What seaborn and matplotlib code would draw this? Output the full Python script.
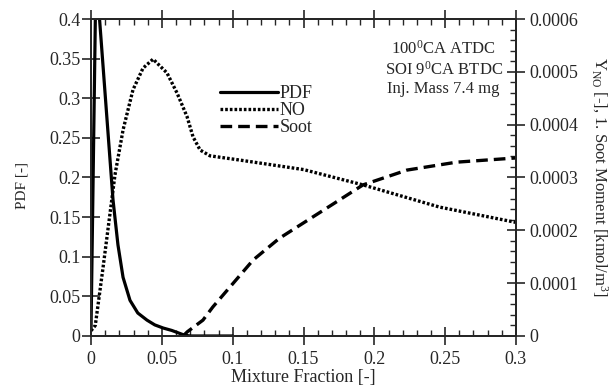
import matplotlib
matplotlib.use("Agg")
import matplotlib.pyplot as plt
import matplotlib.ticker as mticker
import seaborn as sns
import numpy as np

# data
pdf_x = [0, 0.0035, 0.0155, 0.019, 0.0226, 0.0275, 0.033, 0.0395, 0.045, 0.051, 0.057, 0.063, 0.066, 0.07, 0.1]
pdf_y = [0.01, 0.46, 0.172, 0.115, 0.074, 0.045, 0.029, 0.020, 0.014, 0.010, 0.007, 0.003, 0.001, 0.0, 0.0]

no_x = [0, 0.003, 0.0085, 0.0169, 0.0226, 0.0296, 0.0367, 0.0438, 0.0536, 0.0607, 0.0678,
        0.072, 0.077, 0.084, 0.105, 0.15, 0.192, 0.246, 0.3]
no_y = [0.00001, 0.00002, 0.00013, 0.000305, 0.00039, 0.000466, 0.000507, 0.000524, 0.000498,
        0.00046, 0.000415, 0.000377, 0.000352, 0.000341, 0.000333, 0.000315, 0.000286, 0.000244, 0.000215]

soot_x = [0.065, 0.068, 0.079, 0.086, 0.1145, 0.133, 0.164, 0.192, 0.223, 0.258, 0.3]
soot_y = [0.0, 0.000008, 0.00003, 0.000055, 0.000144, 0.000185, 0.000238, 0.000286, 0.000314, 0.000329, 0.000337]

sns.set_style("ticks")
plt.rcParams['font.family'] = ['Liberation Serif', 'DejaVu Serif']
plt.rcParams['mathtext.fontset'] = 'custom'
plt.rcParams['mathtext.rm'] = 'Liberation Serif'
plt.rcParams['mathtext.it'] = 'Liberation Serif:italic'
plt.rcParams['font.size'] = 12

fig = plt.figure(figsize=(6.11, 3.91), dpi=100)
ax = fig.add_axes([0.149, 0.1407, 0.6955, 0.8107])
ax2 = ax.twinx()

sns.lineplot(x=pdf_x, y=pdf_y, ax=ax, color='black', linewidth=2.3, label='PDF', legend=False)
sns.lineplot(x=no_x, y=no_y, ax=ax2, color='black', linewidth=2.4, linestyle=(0, (0.8, 0.6)),
             label='NO', legend=False)
sns.lineplot(x=soot_x, y=soot_y, ax=ax2, color='black', linewidth=2.4, linestyle=(0, (3.5, 1.8)),
             label='Soot', legend=False)

ax.set_xlim(0, 0.3)
ax.set_ylim(0, 0.4)
ax2.set_ylim(0, 0.0006)

ax.xaxis.set_major_locator(mticker.MultipleLocator(0.05))
ax.xaxis.set_minor_locator(mticker.MultipleLocator(0.01))
ax.yaxis.set_major_locator(mticker.MultipleLocator(0.05))
ax2.yaxis.set_major_locator(mticker.MultipleLocator(0.0001))
ax2.yaxis.set_minor_locator(mticker.MultipleLocator(0.00002))
ax.xaxis.set_major_formatter(mticker.FuncFormatter(lambda v, p: '%g' % round(v, 4)))
ax.yaxis.set_major_formatter(mticker.FuncFormatter(lambda v, p: '%g' % round(v, 4)))
ax2.yaxis.set_major_formatter(mticker.FuncFormatter(lambda v, p: '0' if abs(v) < 1e-12 else '%.4f' % v))

ax.tick_params(axis='x', which='major', direction='inout', length=13, width=1.2, top=True, pad=4, labelsize=13)
ax.tick_params(axis='x', which='minor', direction='in', length=4, width=1.0, top=True)
ax.tick_params(axis='y', which='major', direction='inout', length=13, width=1.2, right=False, pad=1, labelsize=13)
ax2.tick_params(axis='y', which='major', direction='inout', length=13, width=1.2, pad=3, labelsize=13)
ax2.tick_params(axis='y', which='minor', direction='in', length=4, width=1.0)

for a in (ax, ax2):
    for s in a.spines.values():
        s.set_visible(True)
        s.set_linewidth(1.4)

ax.set_xlabel('Mixture Fraction [-]', fontsize=13, labelpad=1)
ax.set_ylabel('PDF [-]', fontsize=11)
ax.yaxis.set_label_coords(-0.147, 0.476)
ax2.set_ylabel(r'Y$_\mathrm{NO}$ [-], 1. Soot Moment [kmol/m$^\mathrm{3}$]', fontsize=12,
               rotation=270, labelpad=23)

ax2.text(0.83, 0.845, '100$^\\mathrm{0}$CA ATDC\nSOI 9$^\\mathrm{0}$CA BTDC\nInj. Mass 7.4 mg',
         transform=ax2.transAxes, ha='center', va='center', fontsize=12, linespacing=1.2)

handles = ax.get_lines() + ax2.get_lines()
labels = ['PDF', 'NO', 'Soot']
ax2.legend(handles, labels, loc='upper left', bbox_to_anchor=(220 / 611, 1 - 85 / 391),
           bbox_transform=fig.transFigure, frameon=False, borderpad=0, borderaxespad=0,
           handlelength=3.2, handletextpad=0.1, labelspacing=0.0, fontsize=13)

fig.savefig('out.png', dpi=100)
